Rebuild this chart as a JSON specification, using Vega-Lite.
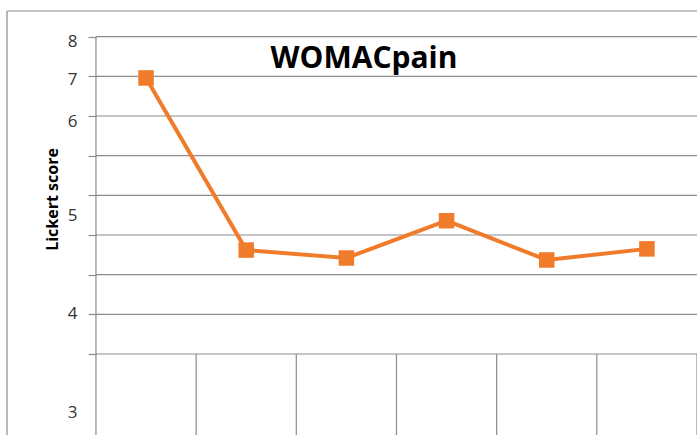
{
  "$schema": "https://vega.github.io/schema/vega-lite/v6.json",
  "width": 690,
  "height": 424,
  "autosize": {"type": "none"},
  "padding": {"left": 7, "top": 11, "right": 0, "bottom": 0},
  "background": "white",
  "config": {"view": {"stroke": null}},
  "title": {
    "text": "WOMACpain",
    "font": "Open Sans",
    "fontSize": 30,
    "fontWeight": "bold",
    "color": "#000000",
    "anchor": "middle",
    "frame": "group",
    "baseline": "alphabetic",
    "offset": -57,
    "dx": 12,
    "dy": 31
  },
  "datasets": {
    "scores": [
      {"time": "T1", "score": 6.96},
      {"time": "T2", "score": 2.62},
      {"time": "T3", "score": 2.42},
      {"time": "T4", "score": 3.36},
      {"time": "T5", "score": 2.37},
      {"time": "T6", "score": 2.65}
    ],
    "grid": [
      {"g": 0, "a": "T1", "b": "T6"},
      {"g": 1, "a": "T1", "b": "T6"},
      {"g": 2, "a": "T1", "b": "T6"},
      {"g": 3, "a": "T1", "b": "T6"},
      {"g": 4, "a": "T1", "b": "T6"},
      {"g": 5, "a": "T1", "b": "T6"},
      {"g": 6, "a": "T1", "b": "T6"},
      {"g": 7, "a": "T1", "b": "T6"},
      {"g": 8, "a": "T1", "b": "T6"}
    ],
    "vlines": [
      {"c": "T1", "top": 8, "bottom": -2.043},
      {"c": "T2", "top": 0, "bottom": -2.043},
      {"c": "T3", "top": 0, "bottom": -2.043},
      {"c": "T4", "top": 0, "bottom": -2.043},
      {"c": "T5", "top": 0, "bottom": -2.043},
      {"c": "T6", "top": 0, "bottom": -2.043}
    ],
    "endline": [
      {"c": "T6", "top": 0, "bottom": -2.043}
    ],
    "frame": [
      {"x0": 0, "x1": 1, "ytop": 8.648, "ybot": -2.043}
    ]
  },
  "resolve": {"scale": {"x": "independent"}, "axis": {"y": "independent"}},
  "layer": [
    {
      "resolve": {"axis": {"y": "independent"}},
      "layer": [
        {
          "data": {"name": "grid"},
          "mark": {"type": "rule", "color": "#8c8c8c", "strokeWidth": 1.2},
          "encoding": {
            "x": {"field": "a", "type": "nominal", "bandPosition": 0,
                  "scale": {"domain": ["T1","T2","T3","T4","T5","T6"], "paddingInner": 0, "paddingOuter": 0.444, "align": 1},
                  "axis": null},
            "x2": {"field": "b", "bandPosition": 1},
            "y": {"field": "g", "type": "quantitative",
                  "scale": {"domain": [-2.043, 8.648], "nice": false, "zero": false},
                  "axis": {
                    "orient": "left",
                    "offset": -89,
                    "domain": false,
                    "grid": false,
                    "ticks": true,
                    "tickSize": 8,
                    "tickColor": "#8c8c8c",
                    "tickWidth": 1.2,
                    "tickOpacity": {"condition": {"test": "datum.value % 1 != 0", "value": 0}, "value": 1},
                    "values": [-1.47, 0, 1, 1.01, 2, 3, 3.48, 4, 5, 5.87, 6, 6.91, 7, 7.87, 8],
                    "labelExpr": "datum.value == 7.87 ? '8' : datum.value == 6.91 ? '7' : datum.value == 5.87 ? '6' : datum.value == 3.48 ? '5' : datum.value == 1.01 ? '4' : datum.value == -1.47 ? '3' : ''",
                    "labelOverlap": false,
                    "labelFlush": false,
                    "labelBaseline": "middle",
                    "labelPadding": 11,
                    "labelFont": "Open Sans",
                    "labelFontSize": 17,
                    "labelColor": "#333333",
                    "title": "Lickert score",
                    "titleFont": "Open Sans",
                    "titleFontSize": 16,
                    "titleFontWeight": "bold",
                    "titleColor": "#000000",
                    "titleAngle": -90,
                    "titleAlign": "center",
                    "titleBaseline": "middle",
                    "titleX": -44,
                    "titleY": 188
                  }}
          }
        },
        {
          "data": {"name": "vlines"},
          "mark": {"type": "rule", "color": "#8c8c8c", "strokeWidth": 1.2},
          "encoding": {
            "x": {"field": "c", "type": "nominal", "bandPosition": 0,
                  "scale": {"domain": ["T1","T2","T3","T4","T5","T6"], "paddingInner": 0, "paddingOuter": 0.444, "align": 1},
                  "axis": null},
            "y": {"field": "top", "type": "quantitative",
                  "scale": {"domain": [-2.043, 8.648], "nice": false, "zero": false}, "axis": null},
            "y2": {"field": "bottom"}
          }
        },
        {
          "data": {"name": "endline"},
          "mark": {"type": "rule", "color": "#8c8c8c", "strokeWidth": 1.2},
          "encoding": {
            "x": {"field": "c", "type": "nominal", "bandPosition": 1,
                  "scale": {"domain": ["T1","T2","T3","T4","T5","T6"], "paddingInner": 0, "paddingOuter": 0.444, "align": 1},
                  "axis": null},
            "y": {"field": "top", "type": "quantitative",
                  "scale": {"domain": [-2.043, 8.648], "nice": false, "zero": false}, "axis": null},
            "y2": {"field": "bottom"}
          }
        },
        {
          "data": {"name": "scores"},
          "mark": {"type": "line", "color": "#F07B2B", "strokeWidth": 4},
          "encoding": {
            "x": {"field": "time", "type": "nominal",
                  "scale": {"domain": ["T1","T2","T3","T4","T5","T6"], "paddingInner": 0, "paddingOuter": 0.444, "align": 1},
                  "axis": null},
            "y": {"field": "score", "type": "quantitative",
                  "scale": {"domain": [-2.043, 8.648], "nice": false, "zero": false}, "axis": null}
          }
        },
        {
          "data": {"name": "scores"},
          "mark": {"type": "point", "shape": "square", "filled": true, "size": 240, "color": "#F07B2B", "opacity": 1},
          "encoding": {
            "x": {"field": "time", "type": "nominal",
                  "scale": {"domain": ["T1","T2","T3","T4","T5","T6"], "paddingInner": 0, "paddingOuter": 0.444, "align": 1},
                  "axis": null},
            "y": {"field": "score", "type": "quantitative",
                  "scale": {"domain": [-2.043, 8.648], "nice": false, "zero": false}, "axis": null}
          }
        }
      ]
    },
    {
      "data": {"name": "frame"},
      "layer": [
        {
          "mark": {"type": "rule", "color": "#8a8a8a", "strokeWidth": 1.2},
          "encoding": {
            "x": {"field": "x0", "type": "quantitative", "scale": {"domain": [0, 1], "nice": false}, "axis": null},
            "y": {"field": "ybot", "type": "quantitative",
                  "scale": {"domain": [-2.043, 8.648], "nice": false, "zero": false}, "axis": null},
            "y2": {"field": "ytop"}
          }
        },
        {
          "mark": {"type": "rule", "color": "#8a8a8a", "strokeWidth": 1.2},
          "encoding": {
            "x": {"field": "x0", "type": "quantitative", "scale": {"domain": [0, 1], "nice": false}, "axis": null},
            "x2": {"field": "x1"},
            "y": {"field": "ytop", "type": "quantitative",
                  "scale": {"domain": [-2.043, 8.648], "nice": false, "zero": false}, "axis": null}
          }
        }
      ]
    }
  ]
}
